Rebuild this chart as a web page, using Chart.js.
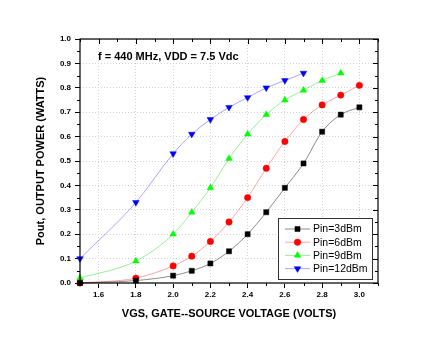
<!DOCTYPE html>
<html>
<head>
<meta charset="utf-8">
<script src="https://cdn.jsdelivr.net/npm/chart.js@4/dist/chart.umd.min.js"></script>
<style>
  html, body { margin: 0; padding: 0; background: #fff; }
  #wrap { width: 440px; height: 341px; position: relative; }
</style>
</head>
<body>
<div id="wrap"><canvas id="chart"></canvas></div>
<script>
// gate-source voltage points (volts)
const vgs = [1.5, 1.8, 2.0, 2.1, 2.2, 2.3, 2.4, 2.5, 2.6, 2.7, 2.8, 2.9, 3.0];

// output power (watts) per input level
const pin3 = [0.00, 0.01, 0.03, 0.05, 0.08, 0.13, 0.20, 0.29, 0.39, 0.49, 0.62, 0.69, 0.72];
const pin6 = [0.00, 0.02, 0.07, 0.11, 0.17, 0.25, 0.35, 0.47, 0.58, 0.67, 0.73, 0.77, 0.81];
const pin9 = [0.02, 0.09, 0.20, 0.29, 0.39, 0.51, 0.61, 0.69, 0.75, 0.79, 0.83, 0.86];
const pin12 = [0.10, 0.33, 0.53, 0.61, 0.67, 0.72, 0.76, 0.80, 0.83, 0.86];

const seriesLabels = ['Pin=3dBm', 'Pin=6dBm', 'Pin=9dBm', 'Pin=12dBm'];
const xTickValues = [1.6, 1.8, 2.0, 2.2, 2.4, 2.6, 2.8, 3.0];
const yTickValues = [0.0, 0.1, 0.2, 0.3, 0.4, 0.5, 0.6, 0.7, 0.8, 0.9, 1.0];

const chartTitle = 'f = 440 MHz, VDD = 7.5 Vdc';
const xTitle = 'VGS, GATE--SOURCE VOLTAGE (VOLTS)';
const yTitle = 'Pout, OUTPUT POWER (WATTS)';

const FONT = '"Liberation Sans", Arial, sans-serif';

function toPoints(ys) {
    return ys.map((y, i) => ({ x: vgs[i], y: y }));
}

function makeSeries(label, ys, color, lineColor, style, radius, rotation) {
    return {
        label: label,
        data: toPoints(ys),
        borderColor: lineColor,
        backgroundColor: color,
        pointBackgroundColor: color,
        pointBorderColor: color,
        pointBorderWidth: 0.5,
        pointStyle: style,
        pointRadius: radius,
        pointRotation: rotation,
        borderWidth: 1,
        cubicInterpolationMode: 'monotone',
        clip: false
    };
}

// extra drawing: frame, minor / mirrored ticks, texts, legend box
const decorPlugin = {
    id: 'decor',
    afterDraw(chart) {
        const ctx = chart.ctx;
        const a = chart.chartArea;
        const xs = chart.scales.x;
        const ys = chart.scales.y;
        ctx.save();
        ctx.strokeStyle = '#000';
        ctx.lineWidth = 1;

        // ticks
        ctx.beginPath();
        for (let i = 15; i <= 31; i++) {
            const v = i / 10;
            const px = Math.round(xs.getPixelForValue(v)) + 0.5;
            const major = xTickValues.some(t => Math.abs(t - v) < 1e-6);
            const len = major ? 5 : 3;
            // top (inward)
            ctx.moveTo(px, a.top);
            ctx.lineTo(px, a.top + len);
            if (!major) {
                ctx.moveTo(px, a.bottom);
                ctx.lineTo(px, a.bottom + len);
            }
        }
        for (let i = 0; i <= 20; i++) {
            const v = i / 20;
            const py = Math.round(ys.getPixelForValue(v)) + 0.5;
            const major = i % 2 === 0;
            const len = major ? 5 : 3;
            ctx.moveTo(a.right, py);
            ctx.lineTo(a.right - len, py);
            if (!major) {
                ctx.moveTo(a.left, py);
                ctx.lineTo(a.left - len, py);
            }
        }
        ctx.stroke();

        // frame
        ctx.lineWidth = 1.2;
        ctx.strokeRect(a.left, a.top, a.right - a.left, a.bottom - a.top);

        // texts
        ctx.fillStyle = '#000';
        ctx.font = 'bold 11px ' + FONT;
        ctx.textAlign = 'left';
        ctx.textBaseline = 'middle';
        ctx.fillText(chartTitle, 98, 57);

        ctx.textAlign = 'center';
        ctx.fillText(xTitle, (a.left + a.right) / 2, 314);

        ctx.save();
        ctx.translate(41, (a.top + a.bottom) / 2);
        ctx.rotate(-Math.PI / 2);
        ctx.fillText(yTitle, 0, 0);
        ctx.restore();

        // legend
        const lx = 278, ly = 218, lw = 94, lh = 61;
        ctx.fillStyle = '#fff';
        ctx.fillRect(lx, ly, lw, lh);
        ctx.strokeStyle = '#333';
        ctx.lineWidth = 1;
        ctx.strokeRect(lx + 0.5, ly + 0.5, lw, lh);
        ctx.font = '10.5px ' + FONT;
        ctx.textAlign = 'left';
        chart.data.datasets.forEach((ds, i) => {
            const ry = ly + 11 + i * 13.2;
            ctx.strokeStyle = ds.borderColor;
            ctx.lineWidth = 1;
            ctx.beginPath();
            ctx.moveTo(lx + 7, ry);
            ctx.lineTo(lx + 32, ry);
            ctx.stroke();
            ctx.fillStyle = ds.pointBackgroundColor;
            ctx.strokeStyle = ds.pointBorderColor;
            ctx.lineWidth = 0.5;
            Chart.helpers.drawPoint(ctx, {
                pointStyle: ds.pointStyle,
                radius: ds.pointRadius,
                rotation: ds.pointRotation,
                borderWidth: 0.5
            }, lx + 19.5, ry);
            ctx.fillStyle = '#000';
            ctx.fillText(ds.label, lx + 35, ry + 0.5);
        });
        ctx.restore();
    }
};

const datasets = [
    makeSeries(seriesLabels[0], pin3, '#000000', 'rgba(0,0,0,0.45)', 'rect', 3.6, 0),
    makeSeries(seriesLabels[1], pin6, '#ff0000', 'rgba(255,0,0,0.35)', 'circle', 3.2, 0),
    makeSeries(seriesLabels[2], pin9, '#00ff00', 'rgba(0,210,0,0.4)', 'triangle', 3.8, 0),
    makeSeries(seriesLabels[3], pin12, '#0000ff', 'rgba(0,0,255,0.35)', 'triangle', 3.8, 180)
];

new Chart(document.getElementById('chart'), {
    type: 'line',
    data: { datasets: datasets },
    options: {
        responsive: true,
        maintainAspectRatio: false,
        animation: false,
        devicePixelRatio: 1,
        layout: { padding: { top: 39, right: 62, left: 0, bottom: 0 } },
        plugins: {
            legend: { display: false },
            tooltip: { enabled: false }
        },
        scales: {
            x: {
                type: 'linear',
                min: 1.5,
                max: 3.1,
                afterBuildTicks: s => { s.ticks = xTickValues.map(v => ({ value: v })); },
                afterFit: s => { s.height = 58; },
                grid: {
                    color: '#d2d2d2',
                    tickColor: '#000',
                    tickLength: 5,
                    tickWidth: 1,
                    lineWidth: 1
                },
                border: { display: false, dash: [1, 2] },
                ticks: {
                    padding: 2,
                    color: '#000',
                    font: { family: FONT, size: 8, weight: 'bold' },
                    callback: v => v.toFixed(1),
                    maxRotation: 0,
                    autoSkip: false
                }
            },
            y: {
                type: 'linear',
                min: 0,
                max: 1.0,
                afterBuildTicks: s => { s.ticks = yTickValues.map(v => ({ value: v })); },
                afterFit: s => { s.width = 80; },
                grid: {
                    color: '#d2d2d2',
                    tickColor: '#000',
                    tickLength: 5,
                    tickWidth: 1,
                    lineWidth: 1
                },
                border: { display: false, dash: [1, 2] },
                ticks: {
                    padding: 4,
                    color: '#000',
                    font: { family: FONT, size: 8, weight: 'bold' },
                    callback: v => v.toFixed(1),
                    autoSkip: false
                }
            }
        }
    },
    plugins: [decorPlugin]
});
</script>
</body>
</html>
